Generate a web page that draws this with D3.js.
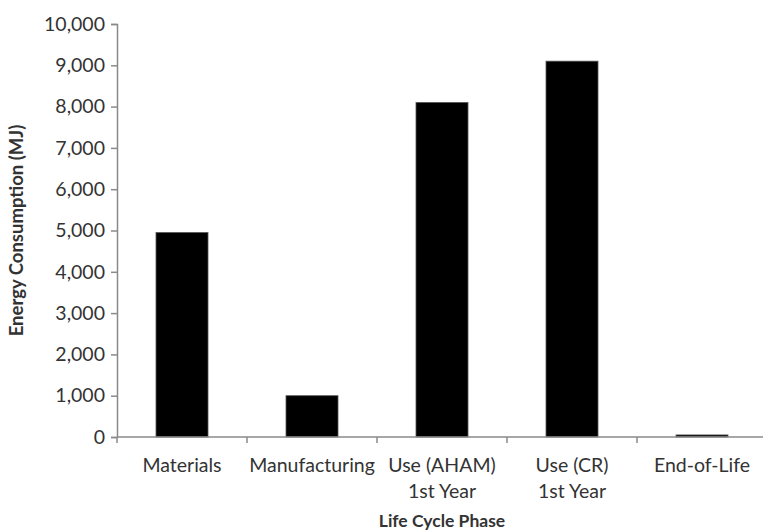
<!DOCTYPE html>
<html><head><meta charset="utf-8">
<script src="https://cdn.jsdelivr.net/npm/d3@7"></script>
<style>body{margin:0;background:#fff}svg{display:block}text{font-family:Lato,"Open Sans",sans-serif;fill:#333}</style>
</head><body>
<svg id="c" width="763" height="532"></svg>
<script>
const categories = ["Materials","Manufacturing","Use (AHAM)\n1st Year","Use (CR)\n1st Year","End-of-Life"];
const values = [4950, 1000, 8100, 9100, 50];
const yTicks = [0,1000,2000,3000,4000,5000,6000,7000,8000,9000,10000];
const xTitle = "Life Cycle Phase";
const yTitle = "Energy Consumption (MJ)";

const svg = d3.select("#c");
const x0 = 117, x1 = 767, yTop = 24, yBot = 437;
const x = d3.scaleBand().domain(categories).range([x0, x1]).paddingInner(0.6).paddingOuter(0.3);
const y = d3.scaleLinear().domain([0, 10000]).range([yBot, yTop]);
const axisColor = "#8a8a8a";
const fs = 19.5;

// bars
svg.append("g").selectAll("rect").data(values).join("rect")
  .attr("x", (d,i) => x(categories[i]))
  .attr("width", x.bandwidth())
  .attr("y", d => y(d))
  .attr("height", d => yBot - y(d))
  .attr("fill", "#000")
  .attr("stroke", "#555").attr("stroke-width", 0.8);

// y axis
const ya = svg.append("g").attr("transform", `translate(${x0},0)`)
  .call(d3.axisLeft(y).tickValues(yTicks).tickFormat(d3.format(",")).tickSize(6).tickPadding(6));
ya.select(".domain").attr("stroke", axisColor).attr("stroke-width", 1.5);
ya.selectAll(".tick line").attr("stroke", axisColor).attr("stroke-width", 1.5);
ya.selectAll(".tick text").attr("font-size", fs).attr("fill", "#333").attr("font-family","Lato,'Open Sans',sans-serif");

// x axis
const xa = svg.append("g").attr("transform", `translate(0,${yBot})`);
xa.append("line").attr("x1", x0).attr("x2", x1).attr("stroke", axisColor).attr("stroke-width", 1.5);
xa.selectAll(".xt").data(d3.range(categories.length + 1)).join("line")
  .attr("x1", i => x0 + i * (x1 - x0) / categories.length)
  .attr("x2", i => x0 + i * (x1 - x0) / categories.length)
  .attr("y1", 0).attr("y2", 6).attr("stroke", axisColor).attr("stroke-width", 1.5);
xa.selectAll(".xl").data(categories).join("text")
  .attr("text-anchor", "middle")
  .attr("font-size", fs)
  .attr("transform", d => `translate(${x(d) + x.bandwidth()/2},35)`)
  .each(function(d){
    const lines = d.split("\n");
    d3.select(this).selectAll("tspan").data(lines).join("tspan")
      .attr("x", 0).attr("dy", (l,i) => i === 0 ? 0 : 26).text(l => l);
  });

// titles
svg.append("text").attr("x", (x0 + x1)/2).attr("y", 527).attr("text-anchor","middle")
  .attr("font-size", 17.5).attr("font-weight", "bold").text(xTitle);
svg.append("text").attr("transform", `translate(23,${(yTop+yBot)/2}) rotate(-90)`).attr("text-anchor","middle")
  .attr("font-size", 18.5).attr("font-weight", "bold").text(yTitle);
</script>
</body></html>
